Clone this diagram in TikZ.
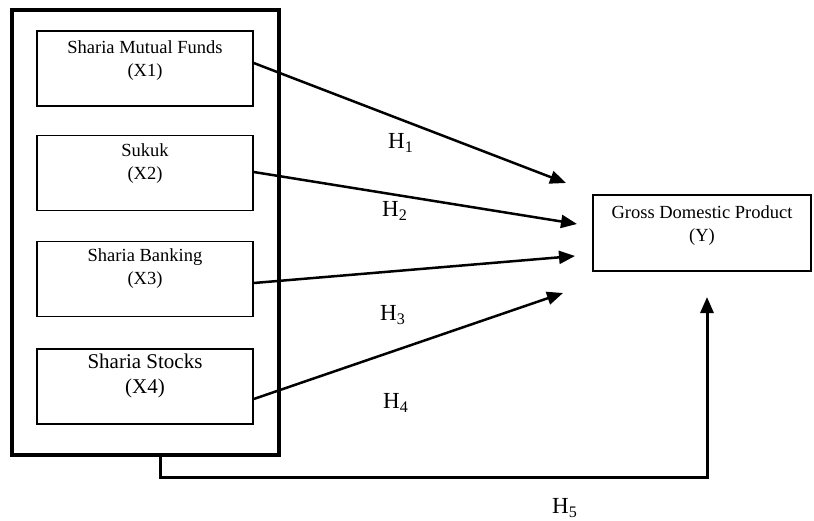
\documentclass[tikz,border=0pt]{standalone}
\usepackage{fontspec}
\setmainfont{Liberation Serif}
\usetikzlibrary{arrows.meta}
\tikzset{
  inbox/.style={draw, line width=1.5pt, minimum width=216pt, minimum height=75pt, inner sep=0pt},
  boxtext/.style={anchor=north, inner sep=0pt, align=center, font=\fontsize{18.5}{23}\selectfont},
  hyp/.style={anchor=west, inner sep=0pt, font=\fontsize{23}{26}\selectfont},
  arr/.style={line width=2.5pt, -{Triangle[length=16pt,width=13pt]}},
}
\begin{document}
\begin{tikzpicture}[x=1pt,y=-1pt]
\useasboundingbox (0,0) rectangle (814,520);
% outer frame
\node[draw, line width=4pt, minimum width=267pt, minimum height=445pt, inner sep=0pt] (outer) at (145.5,232.5) {};
% inner boxes
\node[inbox] (b1) at (145,68.5) {};
\node[inbox] (b2) at (145,173) {};
\node[inbox] (b3) at (145,279) {};
\node[inbox] (b4) at (145,386.5) {};
\node[boxtext] (t1) at (145,40) {Sharia Mutual Funds\\(X1)};
\node[boxtext] (t2) at (145,143) {Sukuk\\(X2)};
\node[boxtext] (t3) at (145,248) {Sharia Banking\\(X3)};
\node[boxtext, font=\fontsize{21}{25}\selectfont] (t4) at (145,354) {Sharia Stocks\\(X4)};
% dependent
\node[inbox, minimum width=218pt, minimum height=76pt] (gdp) at (702,233) {};
\node[boxtext] (ty) at (702,205) {Gross Domestic Product\\(Y)};
% arrow tips
\coordinate (e1) at (566,183);
\coordinate (e2) at (577,224);
\coordinate (e3) at (575,256);
\coordinate (e4) at (563,293);
\coordinate (e5) at (707,297);
\draw[arr] ([yshift=5.5pt]b1.east) -- (e1);
\draw[arr] ([yshift=1pt]b2.east) -- (e2);
\draw[arr] ([yshift=-4pt]b3.east) -- (e3);
\draw[arr] ([yshift=-12.5pt]b4.east) -- (e4);
\draw[arr, line width=3pt] ([xshift=14.5pt]outer.south) -- ++(0,20) -| (e5);
% hypothesis labels
\node[hyp] (h1) at (388,143) {H\textsubscript{1}};
\node[hyp] (h2) at (382,211) {H\textsubscript{2}};
\node[hyp] (h3) at (380,315) {H\textsubscript{3}};
\node[hyp] (h4) at (383,403) {H\textsubscript{4}};
\node[hyp] (h5) at (552,508) {H\textsubscript{5}};
\end{tikzpicture}
\end{document}
